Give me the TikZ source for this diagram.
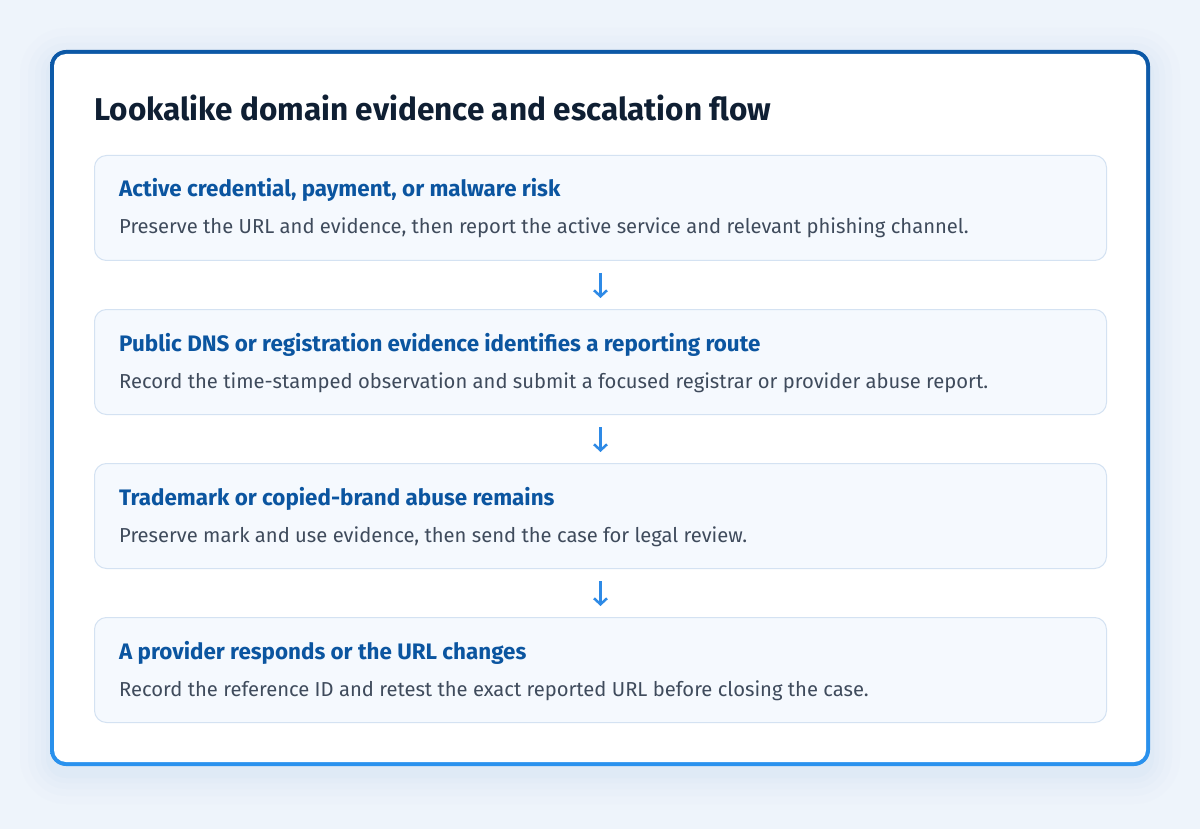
\documentclass[tikz,border=0pt]{standalone}
\usepackage{fontspec}
\setmainfont{Fira Sans}
\usetikzlibrary{arrows.meta}
\definecolor{bgc}{HTML}{EEF4FB}
\definecolor{titlec}{HTML}{0F1F33}
\definecolor{headc}{HTML}{0B55A0}
\definecolor{bodyc}{HTML}{3F4B5C}
\definecolor{boxfill}{HTML}{F5F9FE}
\definecolor{boxline}{HTML}{D4E2F2}
\definecolor{arrc}{HTML}{2E8AE6}
\definecolor{frameA}{HTML}{0C58A6}
\definecolor{frameB}{HTML}{2A92EE}
\definecolor{shadowc}{HTML}{C9DEF5}
\tikzset{
  stepbox/.style={draw=boxline, line width=1pt, fill=boxfill, rounded corners=12pt,
    minimum width=1012pt, minimum height=105pt, inner sep=0pt, anchor=north west},
  headtext/.style={anchor=base west, inner sep=0pt, text=headc, font=\fontsize{22.4}{26}\selectfont\bfseries},
  bodytext/.style={anchor=base west, inner sep=0pt, text=bodyc, font=\fontsize{20.2}{24}\selectfont},
  flowarrow/.style={draw=arrc, line width=2.5pt, -{Straight Barb[length=6pt,width=13pt,line width=2.5pt]},
    shorten <=12pt, shorten >=11pt},
}
\begin{document}
\begin{tikzpicture}[x=1pt,y=-1pt]
\useasboundingbox (0,0) rectangle (1200,829);
\fill[bgc] (0,0) rectangle (1200,829);
% soft shadow
\foreach \d/\o in {30/0.05,22/0.07,15/0.08,9/0.10,4/0.12}{
  \fill[shadowc, opacity=\o, rounded corners=16pt+\d pt] (50-\d,50-\d+8) rectangle (1150+\d,766+\d+8);
}
% frame
\shade[left color=frameA, right color=frameB, shading angle=0, rounded corners=16pt]
  (50,50) rectangle (1150,766);
\fill[white, rounded corners=12pt] (54,54) rectangle (1146,762);
% title
\node[anchor=base west, inner sep=0pt, text=titlec, font=\fontsize{31.5}{36}\selectfont\bfseries] (title) at (94,121) {Lookalike domain evidence and escalation flow};
% boxes
\node[stepbox] (b1) at (94,155) {};
\node[stepbox] (b2) at (94,309) {};
\node[stepbox] (b3) at (94,463) {};
\node[stepbox] (b4) at (94,617) {};
\node[headtext] (h1) at (119,197) {Active credential, payment, or malware risk};
\node[bodytext] (t1) at (119,234) {Preserve the URL and evidence, then report the active service and relevant phishing channel.};
\node[headtext] (h2) at (119,351) {Public DNS or registration evidence identifies a reporting route};
\node[bodytext] (t2) at (119,388) {Record the time-stamped observation and submit a focused registrar or provider abuse report.};
\node[headtext] (h3) at (119,505) {Trademark or copied-brand abuse remains};
\node[bodytext] (t3) at (119,542) {Preserve mark and use evidence, then send the case for legal review.};
\node[headtext] (h4) at (119,659) {A provider responds or the URL changes};
\node[bodytext] (t4) at (119,696) {Record the reference ID and retest the exact reported URL before closing the case.};
% arrows
\draw[flowarrow] (b1.south) -- (b2.north);
\draw[flowarrow] (b2.south) -- (b3.north);
\draw[flowarrow] (b3.south) -- (b4.north);
\end{tikzpicture}
\end{document}
